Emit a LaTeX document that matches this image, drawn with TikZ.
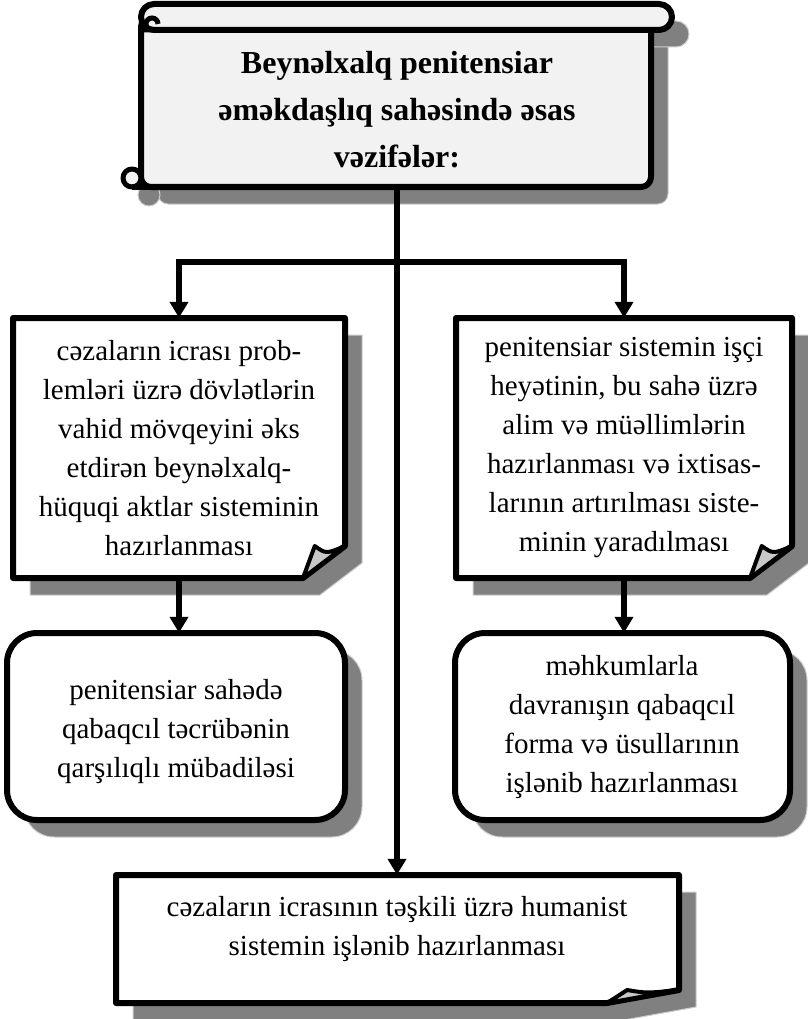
\documentclass[tikz,border=0pt]{standalone}
\usepackage{fontspec}
\setmainfont{Liberation Serif}
\usetikzlibrary{arrows.meta,positioning,calc}
\definecolor{shadegray}{RGB}{128,128,128}
\definecolor{rimgray}{RGB}{205,205,205}
\definecolor{scrollfill}{RGB}{242,242,242}
\definecolor{flapgray}{RGB}{200,200,200}

\tikzset{
  outline/.style={draw=black, line width=6pt, line join=round},
  boxshadow/.style={fill=shadegray, draw=rimgray, line width=1pt},
  arr/.style={line width=6pt, -{Triangle[length=16pt,width=18pt]}},
  boxtext/.style={align=center, inner sep=0pt, font=\fontsize{29pt}{39pt}\selectfont},
  titletext/.style={align=center, inner sep=0pt, font=\fontsize{32pt}{47pt}\selectfont\bfseries},
}

% x0 y0 x1 y1 fold-x fold-y
\newcommand\foldbox[6]{%
  \path[boxshadow, shift={(17,17)}] (#1,#2) -- (#3,#2) -- (#3,#4-#6) -- (#3-#5,#4) -- (#1,#4) -- cycle;
  \filldraw[outline, fill=white] (#1,#2) -- (#3,#2) -- (#3,#4-#6) -- (#3-#5,#4) -- (#1,#4) -- cycle;
  \filldraw[outline, fill=flapgray, line width=4pt] (#3-#5,#4) -- (#3-0.72*#5,#4-#6)
    .. controls (#3-0.45*#5,#4-0.75*#6) .. (#3,#4-#6) -- cycle;
}
% x0 y0 x1 y1
\newcommand\roundbox[4]{%
  \path[boxshadow, rounded corners=30pt, shift={(17,17)}] (#1,#2) rectangle (#3,#4);
  \filldraw[outline, fill=white, rounded corners=30pt] (#1,#2) rectangle (#3,#4);
}

\begin{document}
\begin{tikzpicture}[x=1pt,y=-1pt]
\useasboundingbox (0,0) rectangle (807,1019);

% title scroll
\begin{scope}[shift={(17,17)}]
\path[boxshadow, rounded corners=10pt] (141,17) rectangle (651,187);
\path[boxshadow, rounded corners=13pt] (141,4) rectangle (672,30);
\path[boxshadow] (132,178) circle[radius=11];
\end{scope}
\filldraw[outline, fill=scrollfill, rounded corners=10pt] (141,17) rectangle (651,187);
\filldraw[outline, fill=scrollfill, rounded corners=13pt] (141,4) rectangle (672,30);
\draw[line width=5pt] (158,24) arc[start angle=0, end angle=-270, radius=6] -- (141,30);
\filldraw[outline, fill=scrollfill, line width=5pt] (132,178) circle[radius=9];
\draw[outline] (132,187) -- (160,187);

\foldbox{13}{318}{345}{578}{42}{32}
\foldbox{456}{318}{792}{578}{42}{32}
\roundbox{7}{633}{345}{820}
\roundbox{455}{633}{790}{820}
\foldbox{116}{875}{679}{1003}{72}{13}

\node[titletext, minimum height=154pt] (title) at (397,110)
  {Beynəlxalq penitensiar\\əməkdaşlıq sahəsində əsas\\vəzifələr:};
\node[boxtext, minimum height=260pt] (lfold) at (179,448)
  {cəzaların icrası prob-\\lemləri üzrə dövlətlərin\\vahid mövqeyini əks\\etdirən beynəlxalq-\\hüquqi aktlar sisteminin\\hazırlanması};
\node[boxtext, minimum height=260pt] (rfold) at (624,448)
  {penitensiar sistemin işçi\\heyətinin, bu sahə üzrə\\alim və müəllimlərin\\hazırlanması və ixtisas-\\larının artırılması siste-\\minin yaradılması};
\node[boxtext, minimum height=198pt] (lrnd) at (176,732)
  {penitensiar sahədə\\qabaqcıl təcrübənin\\qarşılıqlı mübadiləsi};
\node[boxtext, minimum height=188pt] (rrnd) at (622,727)
  {məhkumlarla\\davranışın qabaqcıl\\forma və üsullarının\\işlənib hazırlanması};
\node[boxtext, minimum height=108pt] (bot) at (397,929)
  {cəzaların icrasının təşkili üzrə humanist\\sistemin işlənib hazırlanması};

\coordinate (split) at (397,262);
\draw[arr] (title.south) -- (bot.north);
\draw[arr] (split) -| (lfold.north);
\draw[arr] (split) -| (rfold.north);
\draw[arr] (lfold.south) -- (lfold.south |- lrnd.north);
\draw[arr] (rfold.south) -- (rfold.south |- rrnd.north);
\end{tikzpicture}
\end{document}
